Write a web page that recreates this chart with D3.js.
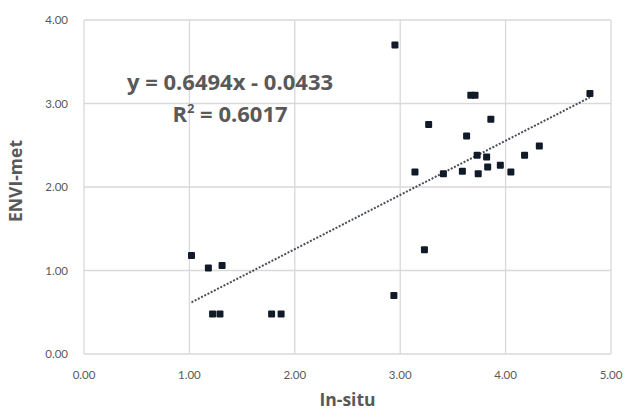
<!DOCTYPE html>
<html>
<head>
    <meta charset="utf-8" />
    <title>ENVI-met vs In-situ</title>
    <style>
        body { margin: 0; background: #fff; font-family: Lato, "Open Sans", sans-serif; }
        .grid line { stroke: #d9d9d9; stroke-width: 1.3; }
        .tick-label { fill: #595959; font-size: 11.5px; }
        .axis-title { fill: #595959; font-family: "Open Sans", sans-serif; font-size: 17.5px; font-weight: bold; }
        .eq { fill: #595959; font-family: "Open Sans", sans-serif; font-size: 22px; font-weight: bold; text-anchor: middle; }
        .trend { stroke: #4a4f57; stroke-width: 2; stroke-dasharray: 2, 1.6; fill: none; }
        .pt { fill: #101a28; }
    </style>
</head>
<body>
    <script src="https://d3js.org/d3.v7.min.js"></script>
    <script>
        // measured (in-situ) vs simulated (ENVI-met)
        let inSitu = [1.02, 1.18, 1.31, 1.22, 1.29, 1.78, 1.87, 2.94, 2.95, 3.23,
                      3.14, 3.27, 3.41, 3.59, 3.63, 3.67, 3.71, 3.73, 3.74, 3.82,
                      3.83, 3.86, 3.95, 4.05, 4.18, 4.32, 4.80]
        let enviMet = [1.18, 1.03, 1.06, 0.48, 0.48, 0.48, 0.48, 0.70, 3.70, 1.25,
                       2.18, 2.75, 2.16, 2.19, 2.61, 3.10, 3.10, 2.38, 2.16, 2.36,
                       2.24, 2.81, 2.26, 2.18, 2.38, 2.49, 3.12]

        let xTicks = [0, 1, 2, 3, 4, 5]
        let yTicks = [0, 1, 2, 3, 4]

        // trendline from the chart's equation
        let slope = 0.6494,
            intercept = -0.0433,
            rSquared = 0.6017

        let margin = { top: 20, right: 14, bottom: 58, left: 84 },
            width = 625 - margin.left - margin.right,
            height = 412 - margin.top - margin.bottom

        let x = d3.scaleLinear().domain([0, 5]).range([0, width])
        let y = d3.scaleLinear().domain([0, 4]).range([height, 0])

        let svg = d3.select('body')
                    .append('svg')
                    .attr('width', 625)
                    .attr('height', 412)
                        .append('g')
                        .attr('transform', `translate(${margin.left}, ${margin.top})`)

        let grid = svg.append('g').classed('grid', true)

        grid.selectAll('.h')
            .data(yTicks)
            .enter()
                .append('line')
                .attr('x1', 0)
                .attr('x2', width)
                .attr('y1', d => y(d))
                .attr('y2', d => y(d))

        grid.selectAll('.v')
            .data(xTicks)
            .enter()
                .append('line')
                .attr('x1', d => x(d))
                .attr('x2', d => x(d))
                .attr('y1', 0)
                .attr('y2', height)

        svg.append('g')
            .selectAll('text')
            .data(yTicks)
            .enter()
                .append('text')
                .classed('tick-label', true)
                .attr('x', -16)
                .attr('y', d => y(d))
                .attr('dy', '0.35em')
                .attr('text-anchor', 'end')
                .text(d => d3.format('.2f')(d))

        svg.append('g')
            .selectAll('text')
            .data(xTicks)
            .enter()
                .append('text')
                .classed('tick-label', true)
                .attr('x', d => x(d))
                .attr('y', height + 21)
                .attr('dy', '0.35em')
                .attr('text-anchor', 'middle')
                .text(d => d3.format('.2f')(d))

        svg.append('text')
            .classed('axis-title', true)
            .attr('x', width / 2)
            .attr('y', height + 46)
            .attr('dy', '0.35em')
            .attr('text-anchor', 'middle')
            .text('In-situ')

        svg.append('text')
            .classed('axis-title', true)
            .attr('transform', `translate(${-68}, ${height / 2 - 6}) rotate(-90)`)
            .attr('dy', '0.35em')
            .attr('text-anchor', 'middle')
            .text('ENVI-met')

        // trendline over the data range
        let xExt = d3.extent(inSitu)
        svg.append('line')
            .classed('trend', true)
            .attr('x1', x(xExt[0]))
            .attr('y1', y(slope * xExt[0] + intercept))
            .attr('x2', x(xExt[1]))
            .attr('y2', y(slope * xExt[1] + intercept))

        let sq = 7
        svg.append('g')
            .selectAll('rect')
            .data(inSitu)
            .enter()
                .append('rect')
                .classed('pt', true)
                .attr('x', d => x(d) - sq / 2)
                .attr('y', (d, i) => y(enviMet[i]) - sq / 2)
                .attr('width', sq)
                .attr('height', sq)
                .attr('rx', 1)

        svg.append('text')
            .classed('eq', true)
            .attr('x', 146)
            .attr('y', 70)
            .text(`y = ${slope}x - ${Math.abs(intercept)}`)

        let r2 = svg.append('text')
            .classed('eq', true)
            .attr('x', 146)
            .attr('y', 102)
        r2.append('tspan').text('R')
        r2.append('tspan').attr('font-size', '13px').attr('dy', '-9').text('2')
        r2.append('tspan').attr('dy', '9').text(` = ${rSquared}`)
    </script>
</body>
</html>
